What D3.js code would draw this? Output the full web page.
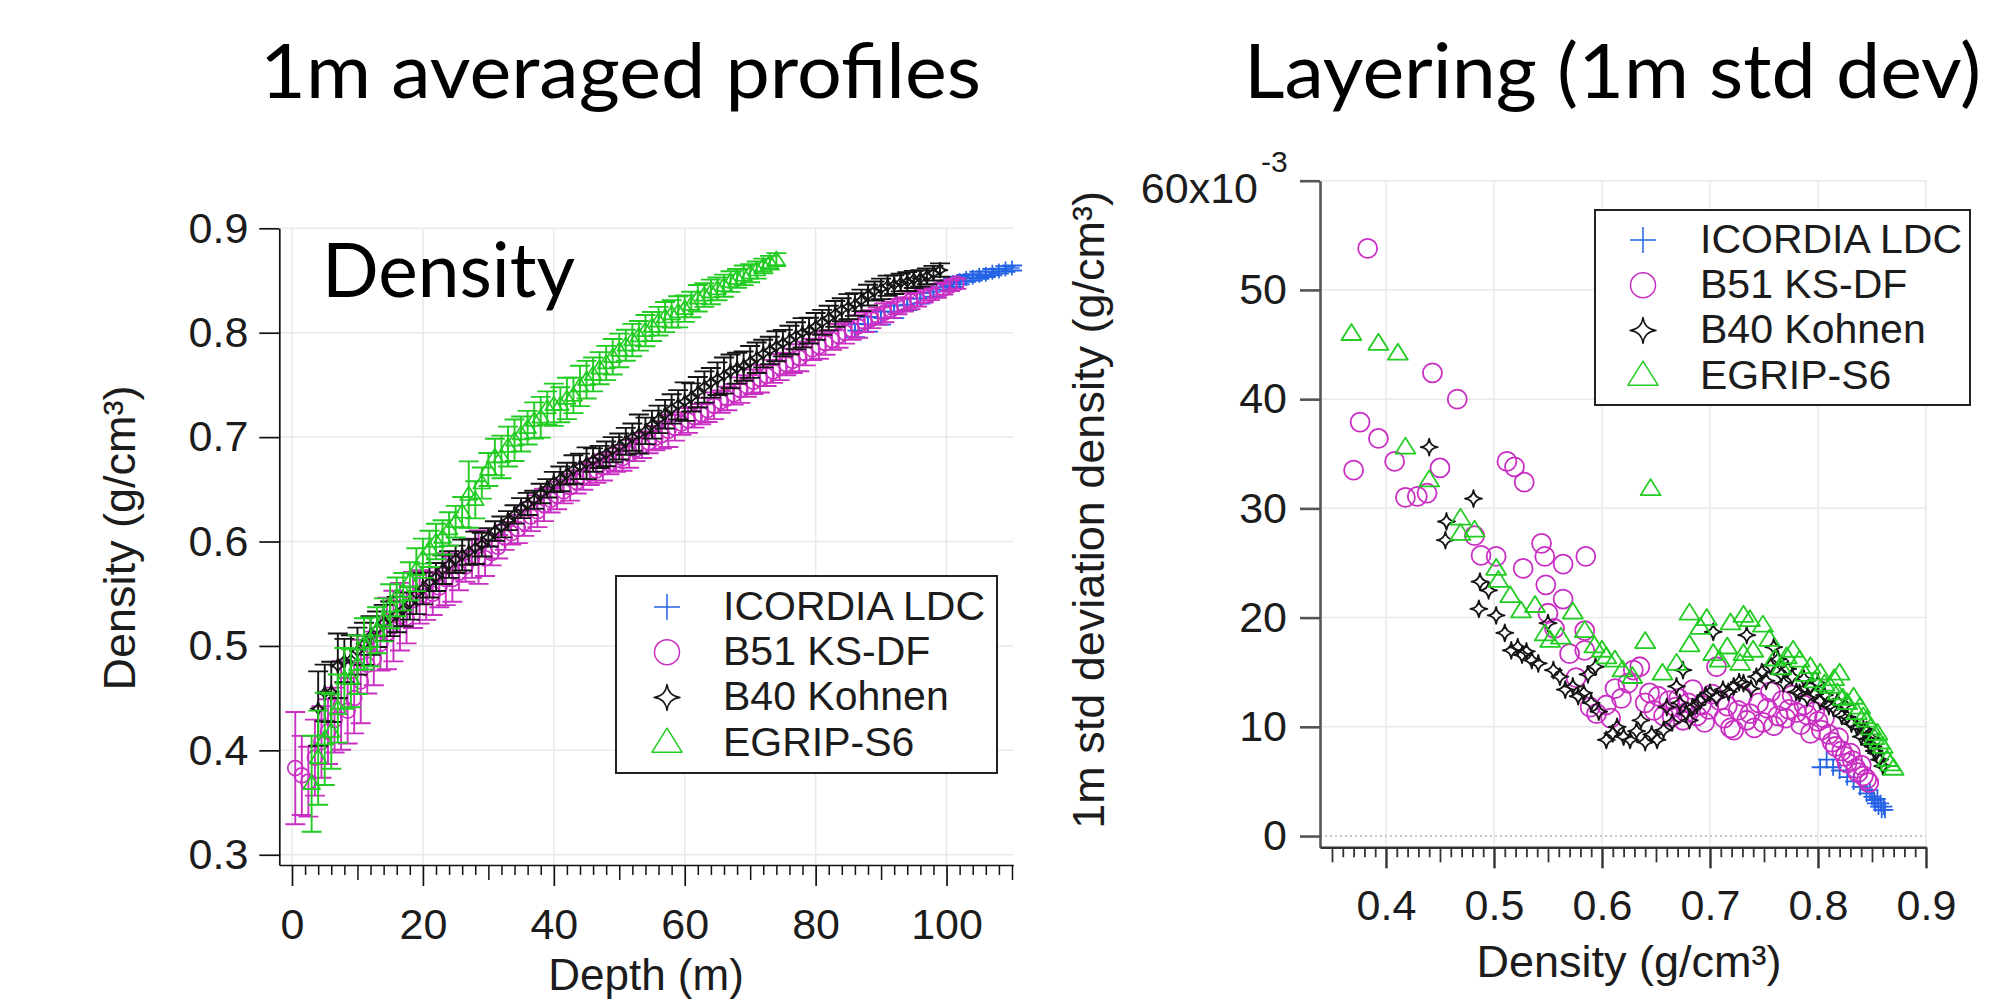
<!DOCTYPE html>
<html>
<head>
<meta charset="utf-8">
<title>Density profiles and layering</title>
<script src="https://cdn.jsdelivr.net/npm/d3@7"></script>
<style>
  body { margin: 0; background: #fff; }
  svg { display: block; }
</style>
</head>
<body>
<svg id="fig" width="1989" height="1005"></svg>
<script>
// values. depth in m, density in g/cm3,
// std dev (1m layering) in units of 1e-3 g/cm3
var seriesNames = ["ICORDIA LDC", "B51 KS-DF", "B40 Kohnen", "EGRIP-S6"];

var icoDepth = [86, 88, 90, 92, 94, 96, 98, 100, 101, 102, 103, 104, 105, 106, 107, 108, 109, 110];
var icoDensity = [0.802, 0.808, 0.814, 0.820, 0.827, 0.833, 0.839, 0.845, 0.848, 0.850, 0.852, 0.853, 0.855, 0.856, 0.858, 0.859, 0.861, 0.862];
var icoStd = [6.3, 7.0, 6.3, 6.0, 5.4, 5.0, 4.5, 3.9, 4.2, 3.6, 3.3, 3.0, 3.4, 2.7, 3.0, 2.4, 2.7, 2.4];

var b51Depth = [0.5, 1.5, 2.5, 3.5, 4.5, 5.5, 6.5, 7.5, 8.5, 9.5,
  10.5, 11.5, 12.5, 13.5, 14.5, 15.5, 16.5, 17.5, 18.5, 19.5,
  20.5, 21.5, 22.5, 23.5, 24.5, 25.5, 26.5, 27.5, 28.5, 29.5,
  30.5, 31.5, 32.5, 33.5, 34.5, 35.5, 36.5, 37.5, 38.5, 39.5,
  40.5, 41.5, 42.5, 43.5, 44.5, 45.5, 46.5, 47.5, 48.5, 49.5,
  50.5, 51.5, 52.5, 53.5, 54.5, 55.5, 56.5, 57.5, 58.5, 59.5,
  60.5, 61.5, 62.5, 63.5, 64.5, 65.5, 66.5, 67.5, 68.5, 69.5,
  70.5, 71.5, 72.5, 73.5, 74.5, 75.5, 76.5, 77.5, 78.5, 79.5,
  80.5, 81.5, 82.5, 83.5, 84.5, 85.5, 86.5, 87.5, 88.5, 89.5,
  90.5, 91.5, 92.5, 93.5, 94.5, 95.5, 96.5, 97.5, 98.5, 99.5,
  100.5, 101.5];
var b51Density = [0.383, 0.376, 0.370, 0.393, 0.408, 0.418, 0.429, 0.443, 0.438, 0.450,
  0.466, 0.482, 0.488, 0.502, 0.512, 0.519, 0.528, 0.527, 0.544, 0.547,
  0.548, 0.550, 0.556, 0.564, 0.564, 0.570, 0.576, 0.584, 0.585, 0.584,
  0.589, 0.595, 0.604, 0.608, 0.612, 0.618, 0.624, 0.629, 0.635, 0.640,
  0.644, 0.648, 0.652, 0.657, 0.662, 0.665, 0.668, 0.671, 0.675, 0.678,
  0.680, 0.684, 0.688, 0.692, 0.695, 0.699, 0.702, 0.706, 0.709, 0.713,
  0.716, 0.719, 0.722, 0.726, 0.730, 0.734, 0.737, 0.741, 0.745, 0.749,
  0.753, 0.756, 0.759, 0.763, 0.767, 0.770, 0.773, 0.776, 0.780, 0.784,
  0.787, 0.790, 0.793, 0.797, 0.800, 0.803, 0.806, 0.810, 0.813, 0.816,
  0.819, 0.822, 0.825, 0.827, 0.830, 0.832, 0.835, 0.837, 0.840, 0.842,
  0.845, 0.847];
var b51Std = [53.8, 37.9, 33.5, 36.4, 34.3, 31.0, 31.1, 42.4, 31.4, 33.7,
  40.0, 27.5, 25.7, 25.6, 34.3, 33.8, 32.4, 24.5, 26.8, 25.6,
  23.0, 20.4, 19.0, 24.9, 21.7, 16.7, 14.5, 18.8, 25.6, 17.0,
  11.8, 11.2, 12.0, 10.8, 13.5, 12.6, 14.0, 15.2, 15.5, 12.2,
  13.1, 11.5, 12.8, 11.0, 12.4, 10.9, 11.8, 12.6, 10.6, 11.3,
  12.2, 13.4, 11.0, 12.0, 10.4, 11.6, 13.0, 15.5, 12.4, 10.8,
  11.9, 9.9, 9.7, 11.5, 12.8, 10.6, 11.2, 9.9, 12.2, 10.4,
  11.7, 13.2, 10.1, 11.0, 12.4, 10.8, 11.6, 12.9, 11.3, 10.2,
  12.0, 11.1, 9.4, 11.4, 10.5, 9.7, 10.8, 9.3, 8.6, 8.2,
  9.0, 7.8, 7.3, 6.7, 7.6, 6.9, 6.2, 5.8, 6.5, 5.5,
  5.2, 4.9];

var b40Depth = [4, 5, 6, 7, 8, 9, 10, 11, 12, 13,
  14, 15, 16, 17, 18, 19, 20, 21, 22, 23,
  24, 25, 26, 27, 28, 29, 30, 31, 32, 33,
  34, 35, 36, 37, 38, 39, 40, 41, 42, 43,
  44, 45, 46, 47, 48, 49, 50, 51, 52, 53,
  54, 55, 56, 57, 58, 59, 60, 61, 62, 63,
  64, 65, 66, 67, 68, 69, 70, 71, 72, 73,
  74, 75, 76, 77, 78, 79, 80, 81, 82, 83,
  84, 85, 86, 87, 88, 89, 90, 91, 92, 93,
  94, 95, 96, 97, 98, 99];
var b40Density = [0.440, 0.455, 0.456, 0.481, 0.486, 0.487, 0.495, 0.502, 0.510, 0.516,
  0.522, 0.526, 0.530, 0.535, 0.541, 0.550, 0.555, 0.561, 0.566, 0.573,
  0.578, 0.583, 0.587, 0.590, 0.594, 0.597, 0.604, 0.610, 0.614, 0.620,
  0.626, 0.632, 0.636, 0.640, 0.646, 0.651, 0.657, 0.660, 0.665, 0.669,
  0.672, 0.675, 0.678, 0.681, 0.684, 0.688, 0.691, 0.696, 0.700, 0.703,
  0.706, 0.712, 0.717, 0.722, 0.727, 0.731, 0.734, 0.738, 0.743, 0.748,
  0.752, 0.756, 0.759, 0.763, 0.766, 0.768, 0.772, 0.776, 0.780, 0.783,
  0.787, 0.790, 0.793, 0.797, 0.800, 0.802, 0.806, 0.810, 0.814, 0.818,
  0.822, 0.825, 0.827, 0.831, 0.836, 0.840, 0.842, 0.845, 0.846, 0.848,
  0.849, 0.851, 0.852, 0.854, 0.857, 0.860];
var b40Std = [35.6, 27.1, 28.8, 30.9, 20.8, 23.3, 22.5, 20.2, 18.6, 17.0,
  17.3, 16.6, 16.9, 16.1, 15.8, 19.5, 15.2, 14.6, 13.4, 13.7,
  12.8, 13.1, 14.8, 12.2, 15.5, 11.4, 8.8, 9.4, 10.0, 9.1,
  8.8, 9.6, 10.6, 8.6, 9.3, 8.8, 9.7, 11.8, 10.4, 13.7,
  12.2, 15.2, 11.2, 10.6, 11.8, 12.0, 12.4, 12.9, 13.1, 18.7,
  12.7, 13.4, 13.2, 13.7, 14.1, 14.0, 18.4, 13.5, 14.6, 15.0,
  14.2, 15.6, 17.3, 16.2, 14.8, 14.0, 15.3, 14.6, 13.2, 13.1,
  14.4, 12.7, 13.7, 13.0, 14.0, 12.4, 12.9, 11.9, 11.8, 12.3,
  11.0, 12.0, 10.9, 10.3, 10.0, 9.1, 9.8, 9.7, 8.9, 8.4,
  9.0, 8.2, 7.8, 7.6, 7.0, 6.4];

var egripDepth = [3, 4, 5, 6, 7, 8, 9, 10, 11, 12,
  13, 14, 15, 16, 17, 18, 19, 20, 21, 22,
  23, 24, 25, 26, 27, 28, 29, 30, 31, 32,
  33, 34, 35, 36, 37, 38, 39, 40, 41, 42,
  43, 44, 45, 46, 47, 48, 49, 50, 51, 52,
  53, 54, 55, 56, 57, 58, 59, 60, 61, 62,
  63, 64, 65, 66, 67, 68, 69, 70, 71, 72,
  73, 74];
var egripDensity = [0.368, 0.393, 0.411, 0.418, 0.440, 0.469, 0.469, 0.482, 0.502, 0.504,
  0.515, 0.525, 0.538, 0.547, 0.552, 0.562, 0.573, 0.584, 0.593, 0.600,
  0.604, 0.612, 0.619, 0.628, 0.645, 0.640, 0.656, 0.669, 0.681, 0.681,
  0.691, 0.697, 0.703, 0.709, 0.716, 0.719, 0.728, 0.731, 0.731, 0.737,
  0.740, 0.749, 0.755, 0.760, 0.766, 0.771, 0.777, 0.783, 0.788, 0.793,
  0.797, 0.802, 0.806, 0.811, 0.815, 0.818, 0.820, 0.823, 0.827, 0.833,
  0.836, 0.839, 0.842, 0.845, 0.849, 0.852, 0.855, 0.857, 0.860, 0.864,
  0.867, 0.870];
var egripStd = [46.0, 45.1, 44.2, 35.6, 32.6, 29.1, 27.7, 28.0, 24.5, 23.4,
  22.0, 20.6, 21.1, 18.5, 17.9, 18.2, 20.5, 18.8, 17.4, 17.0,
  16.4, 16.1, 15.2, 14.6, 31.8, 17.8, 14.9, 15.8, 17.5, 20.4,
  19.1, 19.9, 16.7, 16.1, 17.3, 19.5, 15.8, 20.2, 16.7, 19.8,
  17.0, 19.3, 18.0, 16.2, 15.4, 16.4, 17.0, 16.1, 14.8, 15.5,
  14.2, 14.9, 13.9, 13.7, 14.4, 13.1, 14.9, 12.6, 12.2, 12.7,
  11.3, 11.8, 10.9, 10.6, 9.9, 9.0, 9.4, 8.6, 8.2, 7.0,
  6.6, 6.2];

// tick labels
var depthTicks = [0, 20, 40, 60, 80, 100];
var densityTicksL = [0.3, 0.4, 0.5, 0.6, 0.7, 0.8, 0.9];
var densityTicksR = [0.4, 0.5, 0.6, 0.7, 0.8, 0.9];
var stdTicks = [0, 10, 20, 30, 40, 50];

(function() {
var svg = d3.select("#fig");
var tickFont = "'Liberation Sans', Arial, sans-serif";
var titleFont = "Lato, 'Open Sans', sans-serif";

var series = [
  {name: seriesNames[0], depth: icoDepth, dens: icoDensity, sd: icoStd, color: "#2563e6", shape: "cross"},
  {name: seriesNames[1], depth: b51Depth, dens: b51Density, sd: b51Std, color: "#c92fc2", shape: "circle"},
  {name: seriesNames[2], depth: b40Depth, dens: b40Density, sd: b40Std, color: "#151515", shape: "star"},
  {name: seriesNames[3], depth: egripDepth, dens: egripDensity, sd: egripStd, color: "#22cc22", shape: "triangle"}
];

// marker outlines, size = half width
function shapePath(shape, s) {
  if (shape === "cross") return "M" + (-s) + ",0H" + s + "M0," + (-s) + "V" + s;
  if (shape === "star") {
    var c = 0.1 * s;
    return "M0," + (-s) + "Q" + c + "," + (-c) + " " + s + ",0Q" + c + "," + c + " 0," + s +
      "Q" + (-c) + "," + c + " " + (-s) + ",0Q" + (-c) + "," + (-c) + " 0," + (-s) + "Z";
  }
  if (shape === "triangle") {
    var h = s * 1.6;
    return "M0," + (-h * 0.6) + "L" + s + "," + (h * 0.4) + "L" + (-s) + "," + (h * 0.4) + "Z";
  }
  return "";
}

function addMarker(g, shape, s, color, sw) {
  if (shape === "circle") {
    g.append("circle").attr("r", s).attr("fill", "none")
      .attr("stroke", color).attr("stroke-width", sw);
  } else {
    g.append("path").attr("d", shapePath(shape, s)).attr("fill", "none")
      .attr("stroke", color).attr("stroke-width", sw).attr("stroke-linejoin", "round");
  }
}

function styleAxis(g, color, width) {
  g.attr("font-family", null).attr("font-size", null);
  g.selectAll(".domain").attr("stroke", color).attr("stroke-width", width);
  g.selectAll(".tick line").attr("stroke", color).attr("stroke-width", width);
  g.selectAll(".tick text").attr("font-family", tickFont).attr("font-size", 43).attr("fill", "#1c1c1c");
}

function minorAxis(axis, parent, tx, ty, values, size, color, width) {
  parent.append("g")
      .attr("transform", "translate(" + tx + "," + ty + ")")
      .call(axis.tickValues(values).tickSize(size).tickSizeOuter(0).tickFormat(""))
      .call(function(g) { g.select(".domain").remove(); })
      .selectAll(".tick line").attr("stroke", color).attr("stroke-width", width);
}

function drawLegend(x0, y0, w, h, mx, tx, base0) {
  var lg = svg.append("g");
  lg.append("rect").attr("x", x0).attr("y", y0).attr("width", w).attr("height", h)
    .attr("fill", "#fff").attr("stroke", "#222").attr("stroke-width", 2);
  series.forEach(function(s, i) {
    var by = base0 + i * 45.2;
    var m = lg.append("g").attr("transform", "translate(" + mx + "," + (by - 13) + ")");
    var sz = s.shape === "triangle" ? 15 : (s.shape === "circle" ? 12.5 : 13);
    addMarker(m, s.shape, sz, s.color, 1.5);
    lg.append("text").attr("x", tx).attr("y", by).text(s.name)
      .attr("font-family", tickFont).attr("font-size", 41).attr("fill", "#1c1c1c");
  });
}

// ---------- left panel: 1m averaged density vs depth ----------
var xL = d3.scaleLinear().domain([-1.94, 110.2]).range([279.3, 1013.3]);
var yL = d3.scaleLinear().domain([0.2902, 0.9]).range([865, 228.3]);

var gridL = svg.append("g").attr("stroke", "#e9e9e9").attr("stroke-width", 1.5);
densityTicksL.forEach(function(v) {
  gridL.append("line").attr("x1", xL.range()[0]).attr("x2", xL.range()[1])
    .attr("y1", yL(v)).attr("y2", yL(v));
});
depthTicks.forEach(function(v) {
  gridL.append("line").attr("x1", xL(v)).attr("x2", xL(v))
    .attr("y1", yL.range()[1]).attr("y2", yL.range()[0]);
});

svg.append("text").attr("x", 322).attr("y", 296.7).text("Density")
  .attr("font-family", titleFont).attr("font-size", 75).attr("fill", "#000")
  .attr("textLength", 253).attr("lengthAdjust", "spacingAndGlyphs");

series.forEach(function(s) {
  var g = svg.append("g");
  var pts = s.dens.map(function(d, i) { return {depth: s.depth[i], dens: d, sd: s.sd[i] / 1000}; });
  var p = g.selectAll("g").data(pts).enter().append("g")
      .attr("transform", function(d) { return "translate(" + xL(d.depth) + "," + yL(d.dens) + ")"; });
  p.append("path")
      .attr("d", function(d) {
        var top = yL(d.dens + d.sd) - yL(d.dens), bot = yL(d.dens - d.sd) - yL(d.dens);
        return "M0," + top + "V" + bot + "M-10," + top + "h20M-10," + bot + "h20";
      })
      .attr("fill", "none").attr("stroke", s.color).attr("stroke-width", 1.9);
  p.each(function() {
    addMarker(d3.select(this), s.shape, s.shape === "triangle" ? 8.5 : 7.5, s.color, 1.7);
  });
});

var yAxisL = svg.append("g").attr("transform", "translate(" + xL.range()[0] + ",0)")
    .call(d3.axisLeft(yL).tickValues(densityTicksL).tickSize(20).tickSizeOuter(0)
      .tickPadding(11).tickFormat(d3.format(".1f")));
styleAxis(yAxisL, "#111", 1.7);

var xAxisL = svg.append("g").attr("transform", "translate(0," + yL.range()[0] + ")")
    .call(d3.axisBottom(xL).tickValues(depthTicks).tickSize(21).tickSizeOuter(0)
      .tickPadding(22).tickFormat(d3.format("d")));
styleAxis(xAxisL, "#111", 1.7);
minorAxis(d3.axisBottom(xL), svg, 0, yL.range()[0], [10, 30, 50, 70, 90, 110], 15, "#111", 1.5);
minorAxis(d3.axisBottom(xL), svg, 0, yL.range()[0],
  d3.range(2, 110, 2).filter(function(v) { return v % 10 !== 0; }), 10, "#111", 1.5);

svg.append("text")
  .attr("transform", "translate(135,538) rotate(-90)")
  .attr("text-anchor", "middle").attr("font-family", tickFont).attr("font-size", 45).attr("fill", "#1c1c1c")
  .text("Density (g/cm³)");
svg.append("text").attr("x", 646).attr("y", 990).attr("text-anchor", "middle")
  .attr("font-family", tickFont).attr("font-size", 44).attr("fill", "#1c1c1c")
  .text("Depth (m)");

drawLegend(616, 576, 381, 197, 667, 723, 620);

// ---------- right panel: 1m std dev vs density ----------
var xR = d3.scaleLinear().domain([0.3389, 0.9]).range([1320, 1926]);
var yR = d3.scaleLinear().domain([-0.00103, 0.06]).range([847.3, 180.7]);

var gridR = svg.append("g").attr("stroke", "#e9e9e9").attr("stroke-width", 1.5);
stdTicks.concat([60]).forEach(function(v) {
  if (v === 0) return;
  gridR.append("line").attr("x1", xR.range()[0]).attr("x2", xR.range()[1])
    .attr("y1", yR(v / 1000)).attr("y2", yR(v / 1000));
});
densityTicksR.forEach(function(v) {
  gridR.append("line").attr("x1", xR(v)).attr("x2", xR(v))
    .attr("y1", yR.range()[1]).attr("y2", yR.range()[0]);
});
svg.append("line").attr("x1", xR.range()[0]).attr("x2", xR.range()[1])
  .attr("y1", yR(0)).attr("y2", yR(0))
  .attr("stroke", "#b5b5b5").attr("stroke-width", 1.5).attr("stroke-dasharray", "2,3");

series.forEach(function(s) {
  var g = svg.append("g");
  var pts = s.dens.map(function(d, i) { return {dens: d, sd: s.sd[i] / 1000}; });
  g.selectAll("g").data(pts).enter().append("g")
      .attr("transform", function(d) { return "translate(" + xR(d.dens) + "," + yR(d.sd) + ")"; })
      .each(function() {
        var sz = s.shape === "circle" ? 9.5 : (s.shape === "triangle" ? 10 : 8.5);
        addMarker(d3.select(this), s.shape, sz, s.color, 1.8);
      });
});

var yAxisR = svg.append("g").attr("transform", "translate(" + xR.range()[0] + ",0)")
    .call(d3.axisLeft(yR).tickValues(stdTicks.map(function(v) { return v / 1000; }).concat([0.06]))
      .tickSize(20).tickSizeOuter(0).tickPadding(13)
      .tickFormat(function(d) { return d > 0.055 ? "" : Math.round(d * 1000); }));
styleAxis(yAxisR, "#555", 2.6);
svg.append("text").attr("x", 1258).attr("y", 203).attr("text-anchor", "end")
  .attr("font-family", tickFont).attr("font-size", 43).attr("fill", "#1c1c1c").text("60x10");
svg.append("text").attr("x", 1261).attr("y", 172)
  .attr("font-family", tickFont).attr("font-size", 30).attr("fill", "#1c1c1c").text("-3");

var xAxisR = svg.append("g").attr("transform", "translate(0," + yR.range()[0] + ")")
    .call(d3.axisBottom(xR).tickValues(densityTicksR).tickSize(21).tickSizeOuter(0)
      .tickPadding(21).tickFormat(d3.format(".1f")));
styleAxis(xAxisR, "#333", 2.4);
minorAxis(d3.axisBottom(xR), svg, 0, yR.range()[0], [0.35, 0.45, 0.55, 0.65, 0.75, 0.85], 15, "#333", 1.8);
minorAxis(d3.axisBottom(xR), svg, 0, yR.range()[0],
  d3.range(36, 90).filter(function(v) { return v % 5 !== 0; }).map(function(v) { return v / 100; }),
  10, "#333", 1.8);

svg.append("text")
  .attr("transform", "translate(1104,510) rotate(-90)")
  .attr("text-anchor", "middle").attr("font-family", tickFont).attr("font-size", 45).attr("fill", "#1c1c1c")
  .text("1m std deviation density (g/cm³)");
svg.append("text").attr("x", 1629).attr("y", 977).attr("text-anchor", "middle")
  .attr("font-family", tickFont).attr("font-size", 45).attr("fill", "#1c1c1c")
  .text("Density (g/cm³)");

drawLegend(1595, 210, 375, 195, 1643, 1700, 253);

// ---------- panel titles ----------
svg.append("text").attr("x", 260).attr("y", 98).text("1m averaged profiles")
  .attr("font-family", titleFont).attr("font-size", 75).attr("fill", "#000")
  .attr("textLength", 721).attr("lengthAdjust", "spacingAndGlyphs");
svg.append("text").attr("x", 1244).attr("y", 98).text("Layering (1m std dev)")
  .attr("font-family", titleFont).attr("font-size", 75).attr("fill", "#000")
  .attr("textLength", 737).attr("lengthAdjust", "spacingAndGlyphs");
})();
</script>
</body>
</html>
